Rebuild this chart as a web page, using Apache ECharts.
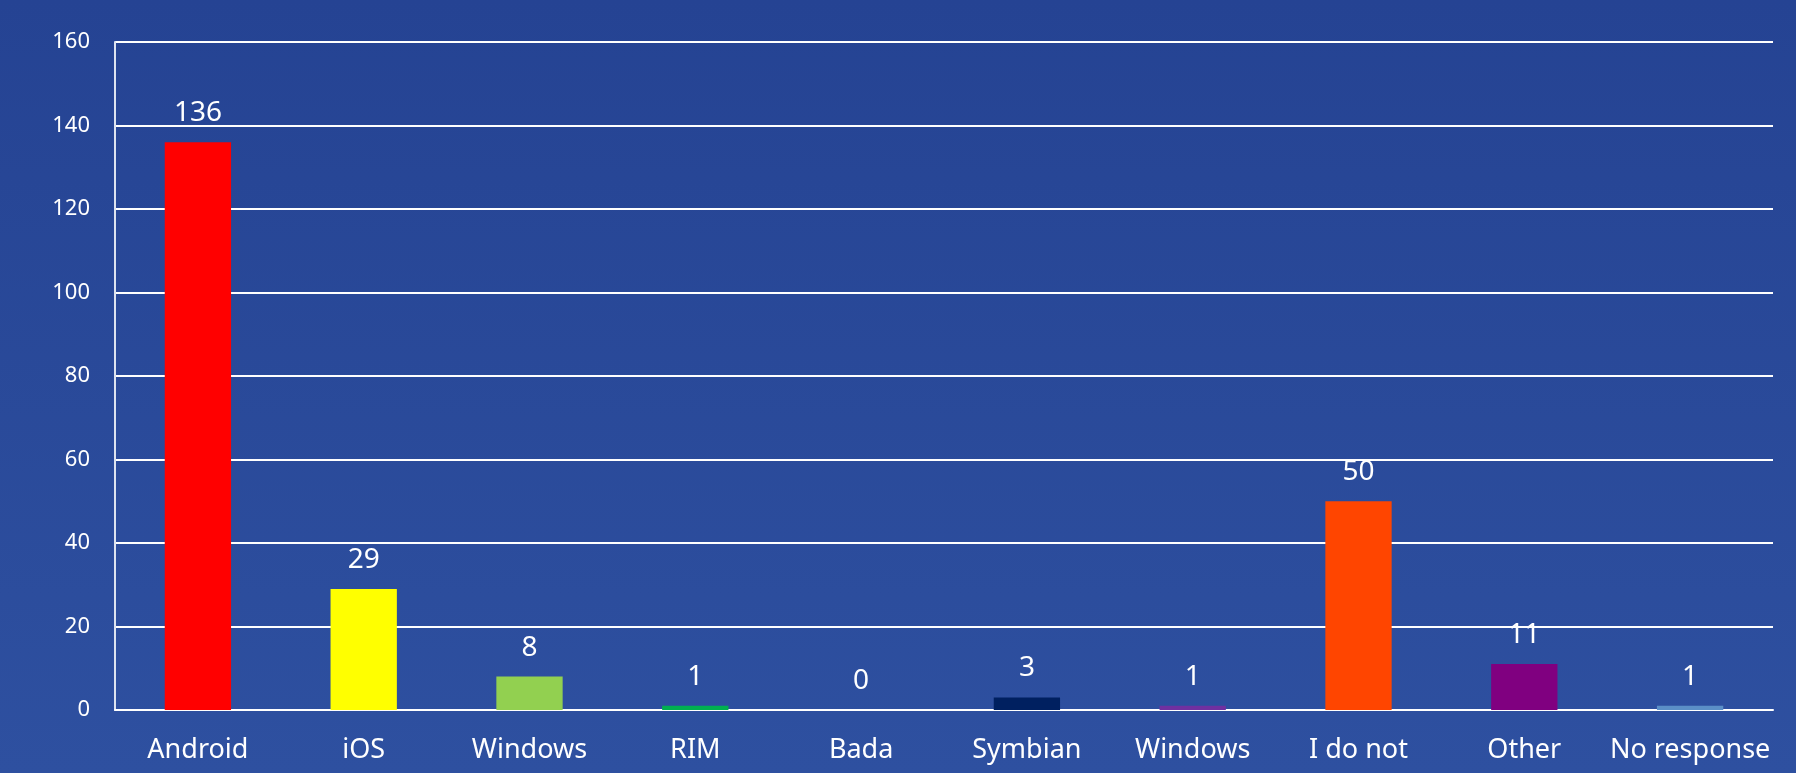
<!DOCTYPE html>
<html>
<head>
<meta charset="utf-8">
<script src="https://cdn.jsdelivr.net/npm/echarts@6/dist/echarts.min.js"></script>
<style>
html,body{margin:0;padding:0;width:1796px;height:773px;overflow:hidden;}
#c{width:1796px;height:773px;}
</style>
</head>
<body>
<div id="c"></div>
<script>
const categories = ["Android","iOS","Windows","RIM","Bada","Symbian","Windows","I do not","Other","No response"];
const values = [136, 29, 8, 1, 0, 3, 1, 50, 11, 1];
const barColors = ["#FF0000","#FFFF00","#92D050","#00B050","#2E4D9E","#002060","#7030A0","#FF4500","#800080","#5B8FC7"];
const yTicks = {min: 0, max: 160, interval: 20};

const FONT = "'Liberation Sans Narrow', 'Noto Sans', sans-serif";
const chart = echarts.init(document.getElementById('c'));
chart.setOption({
  animation: false,
  backgroundColor: {
    type: 'linear', x: 0, y: 0, x2: 0, y2: 1,
    colorStops: [{offset: 0, color: '#254393'}, {offset: 1, color: '#2E50A0'}]
  },
  grid: {left: 115, right: 23, top: 42, bottom: 63},
  xAxis: {
    type: 'category',
    data: categories,
    axisLine: {lineStyle: {color: '#FFFFFF', width: 2}},
    axisTick: {show: false},
    axisLabel: {color: '#FFFFFF', fontSize: 27, fontFamily: FONT, margin: 27, interval: 0}
  },
  yAxis: {
    type: 'value',
    min: yTicks.min, max: yTicks.max, interval: yTicks.interval,
    axisLine: {show: true, lineStyle: {color: '#DDE3F0', width: 2}},
    axisTick: {show: false},
    axisLabel: {color: '#FFFFFF', fontSize: 22, fontFamily: FONT, margin: 25},
    splitLine: {lineStyle: {color: '#FFFFFF', width: 2}}
  },
  series: [{
    type: 'bar',
    data: values.map((v, i) => ({value: v, itemStyle: {color: barColors[i]}})),
    barWidth: '40%',
    label: {show: true, position: 'top', distance: 15, color: '#FFFFFF', fontSize: 28, fontFamily: FONT}
  }]
});
</script>
</body>
</html>
